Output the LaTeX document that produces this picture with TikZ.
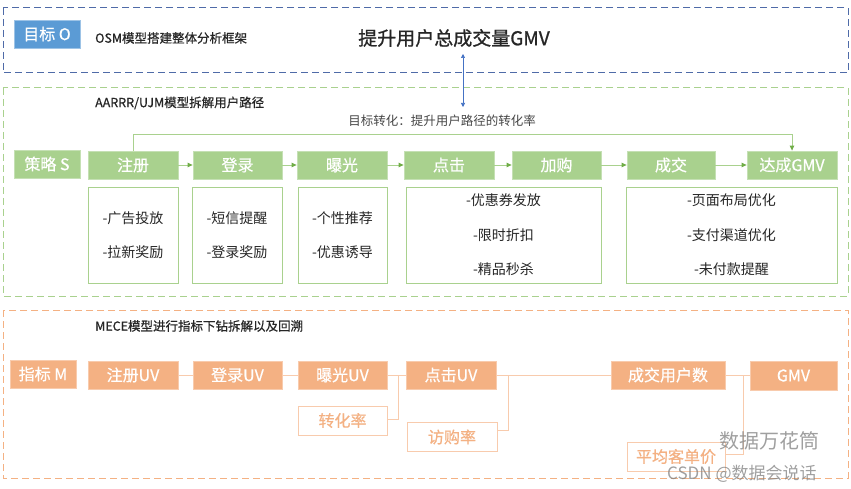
\documentclass[tikz,border=0pt]{standalone}
\usepackage{fontspec}
\setmainfont{Noto Sans CJK SC}
\newfontfamily\medfont[FakeBold=0.6]{Noto Sans CJK SC}
\newfontfamily\headfont[FakeBold=1.0]{Noto Sans CJK SC}
\usetikzlibrary{arrows.meta}
\definecolor{bluef}{HTML}{5B9BD5}
\definecolor{bluel}{HTML}{9DC3E6}
\definecolor{blued}{HTML}{4F6BA8}
\definecolor{arrowblue}{HTML}{4472C4}
\definecolor{greenf}{HTML}{A9D18E}
\definecolor{greenl}{HTML}{C5E0B4}
\definecolor{greend}{HTML}{70AD47}
\definecolor{orangef}{HTML}{F4B183}
\definecolor{orangel}{HTML}{F8CBAD}
\definecolor{txt}{HTML}{262626}
\newcommand\fsz[1]{\fontsize{#1}{#1}\selectfont}
\begin{document}
\begin{tikzpicture}[x=1pt,y=-1pt,
  solidbox/.style={inner sep=0pt, text=white, font=\medfont\fsz{16}, line width=0.8pt},
  bluebox/.style={solidbox, fill=bluef, draw=bluel},
  greenbox/.style={solidbox, fill=greenf, draw=greenl},
  orangebox/.style={solidbox, fill=orangef, draw=orangel},
  detailbox/.style={inner sep=0pt, fill=white, draw=greenf, line width=0.9pt, text=txt,
     font=\fontsize{14}{34.5}\selectfont, align=center},
  ratiobox/.style={inner sep=0pt, fill=white, draw=orangel, line width=0.9pt, text=orangef, font=\medfont\fsz{16}},
  sectitle/.style={anchor=west, inner sep=0pt, text=txt, font=\medfont\fsz{12.5}},
  frame/.style={dash pattern=on 7pt off 4pt, line width=1pt},
  gline/.style={draw=greenf, line width=0.9pt},
  garrow/.style={gline, -{Triangle[length=5pt,width=4.5pt,fill=greend,color=greend]}},
  oline/.style={draw=orangel, line width=1pt},
  wm/.style={inner sep=0pt, text=gray, opacity=0.75}
]
\useasboundingbox (0,0) rectangle (851,489);
\fill[white] (0,0) rectangle (851,489);

% frames
\draw[frame, blued] (3,8) rectangle (848,73);
\draw[frame, greenf] (3,88) rectangle (848,296);
\draw[frame, orangef] (3,310) rectangle (848,478);

% ---------- O ----------
\node[bluebox, minimum width=66pt, minimum height=28pt] (o) at (47,34) {目标 O};
\node[sectitle] (osm) at (95,38) {OSM模型搭建整体分析框架};
\node[inner sep=0pt, text=txt, font=\headfont\fsz{19}] (goal) at (454,38) {提升用户总成交量GMV};
\coordinate (atop) at (463,54);
\coordinate (abot) at (463,107);
\draw[arrowblue, line width=0.7pt, {Triangle[length=4pt,width=4pt]}-{Triangle[length=4pt,width=4pt]}] (atop) -- (abot);

% ---------- S ----------
\node[sectitle] (aarrr) at (95,103) {AARRR/UJM模型拆解用户路径};
\node[inner sep=0pt, text=txt!85, font=\fsz{12.5}] (conv) at (442,121) {目标转化：提升用户路径的转化率};

\node[greenbox, minimum width=66pt, minimum height=28pt] (s) at (47,164) {策略 S};
\node[greenbox, minimum width=90pt, minimum height=28pt] (zc) at (133,165) {注册};
\node[greenbox, minimum width=89pt, minimum height=28pt] (dl) at (237.5,165) {登录};
\node[greenbox, minimum width=90pt, minimum height=28pt] (bg) at (342,165) {曝光};
\node[greenbox, minimum width=90pt, minimum height=28pt] (dj) at (449,165) {点击};
\node[greenbox, minimum width=89pt, minimum height=28pt] (jg) at (556.5,165) {加购};
\node[greenbox, minimum width=88pt, minimum height=28pt] (cj) at (671,165) {成交};
\node[greenbox, minimum width=90pt, minimum height=28pt] (gmv) at (792,165) {达成GMV};

\draw[garrow] (zc) -- (dl);
\draw[garrow] (dl) -- (bg);
\draw[garrow] (bg) -- (dj);
\draw[garrow] (dj) -- (jg);
\draw[garrow] (jg) -- (cj);
\draw[garrow] (cj) -- (gmv);
\draw[garrow] (zc.north) -- ++(0,-16) -| (gmv.north);

\node[detailbox, minimum width=90pt, minimum height=96pt] (zcd) at (133,235) {-广告投放\\-拉新奖励};
\node[detailbox, minimum width=90pt, minimum height=96pt] (dld) at (237,235) {-短信提醒\\-登录奖励};
\node[detailbox, minimum width=89pt, minimum height=96pt] (bgd) at (342.5,235) {-个性推荐\\-优惠诱导};
\node[detailbox, minimum width=195pt, minimum height=96pt] (djd) at (503.5,235) {-优惠券发放\\-限时折扣\\-精品秒杀};
\node[detailbox, minimum width=211pt, minimum height=96pt] (cjd) at (731.5,235) {-页面布局优化\\-支付渠道优化\\-未付款提醒};

% ---------- M ----------
\node[sectitle] (mece) at (95,326) {MECE模型进行指标下钻拆解以及回溯};

\node[orangebox, minimum width=66pt, minimum height=28pt] (m) at (43,374) {指标 M};
\node[orangebox, minimum width=90pt, minimum height=28pt] (zcuv) at (133,375) {注册UV};
\node[orangebox, minimum width=89pt, minimum height=28pt] (dluv) at (237.5,375) {登录UV};
\node[orangebox, minimum width=89pt, minimum height=28pt] (bguv) at (342.5,375) {曝光UV};
\node[orangebox, minimum width=90pt, minimum height=28pt] (djuv) at (451,375) {点击UV};
\node[orangebox, minimum width=114pt, minimum height=28pt] (cjyh) at (668,375) {成交用户数};
\node[orangebox, minimum width=87pt, minimum height=29pt] (gmvm) at (793.5,375.5) {GMV};

\node[ratiobox, minimum width=89pt, minimum height=29pt] (zhl) at (342.5,420.5) {转化率};
\node[ratiobox, minimum width=90pt, minimum height=29pt] (fgl) at (452,437) {访购率};
\node[ratiobox, minimum width=98pt, minimum height=29pt] (pj) at (676,456.5) {平均客单价};

\draw[oline] (zcuv) -- (dluv);
\draw[oline] (dluv) -- (bguv);
\draw[oline] (bguv) -- (djuv);
\draw[oline] (bguv.east) -- ++(11,0) |- ([yshift=1.5pt]zhl.east);
\draw[oline] (djuv.east) -- (cjyh.west);
\draw[oline] (djuv.east) -- ++(12,0) |- ([yshift=7pt]fgl.east);
\draw[oline] (cjyh.east) -- (gmvm.west |- cjyh.east);
\draw[oline] (cjyh.east) -- ++(18,0) |- ([yshift=2.5pt]pj.east);

% watermark
\node[wm, font=\fsz{20}, anchor=west] (wm1) at (719,441) {数据万花筒};
\node[wm, font=\fsz{17}, anchor=west] (wm2) at (667,474) {CSDN @数据会说话};
\end{tikzpicture}
\end{document}
